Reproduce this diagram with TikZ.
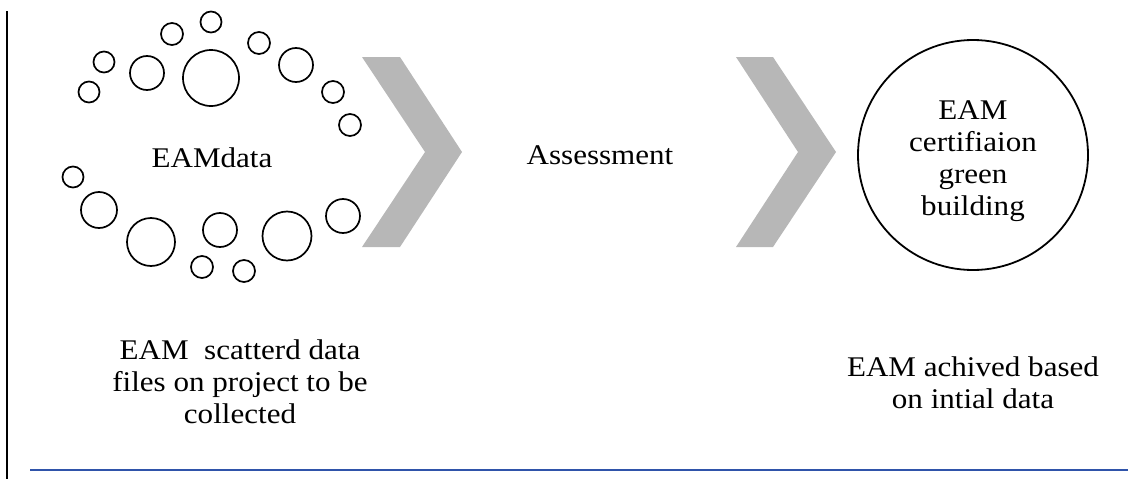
\documentclass[tikz,border=0pt]{standalone}
\usepackage{fontspec}
\setmainfont[FakeStretch=1.09]{Liberation Serif}
\definecolor{chevgray}{RGB}{183,183,183}
\definecolor{rulblue}{RGB}{47,84,170}
\begin{document}
\begin{tikzpicture}[x=1pt,y=-1pt,
  bub/.style={draw=black,line width=1.7pt,circle,inner sep=0pt},
  txt/.style={font=\fontsize{28.5}{32}\selectfont,align=center,inner sep=0pt},
  chev/.style={fill=chevgray,draw=none}]
\useasboundingbox (0,0) rectangle (1130,479);
% left rule and bottom rule
\coordinate (vt) at (6.5,11);
\coordinate (vb) at (6.5,479);
\draw[line width=2pt] (vt) -- (vb);
\coordinate (hl) at (30,470);
\coordinate (hr) at (1128,470);
\draw[rulblue,line width=1.3pt] (hl) -- (hr);
% scattered data bubbles
\node[bub,minimum size=21pt] (c1) at (211,22) {};
\node[bub,minimum size=22pt] (c2) at (172,34) {};
\node[bub,minimum size=21pt] (c3) at (104,62) {};
\node[bub,minimum size=21pt] (c4) at (89,92) {};
\node[bub,minimum size=34pt] (c5) at (147,73) {};
\node[bub,minimum size=56pt] (c6) at (211,78) {};
\node[bub,minimum size=22pt] (c7) at (259,43) {};
\node[bub,minimum size=34pt] (c8) at (296,65) {};
\node[bub,minimum size=22pt] (c9) at (333,92) {};
\node[bub,minimum size=22pt] (c10) at (350,125) {};
\node[bub,minimum size=21pt] (c11) at (73,177) {};
\node[bub,minimum size=36pt] (c12) at (99,210) {};
\node[bub,minimum size=48pt] (c13) at (151,242) {};
\node[bub,minimum size=34pt] (c14) at (220,230) {};
\node[bub,minimum size=22pt] (c15) at (202,267) {};
\node[bub,minimum size=22pt] (c16) at (244,271) {};
\node[bub,minimum size=49pt] (c17) at (287,236) {};
\node[bub,minimum size=34pt] (c18) at (343,216) {};
\node[txt] (data) at (212,157.5) {EAMdata};
% chevrons
\fill[chev] (362,57) -- (400,57) -- (462,152) -- (400,247) -- (362,247) -- (425,152) -- cycle;
\fill[chev] (736,57) -- (773,57) -- (836,152) -- (773,247) -- (736,247) -- (798,152) -- cycle;
\node[txt] (assess) at (600,155) {Assessment};
% certification circle
\node[draw=black,line width=1.8pt,circle,minimum size=230pt,inner sep=0pt] (goal) at (973,155) {};
\node[txt] (goaltxt) at (973,161.5) {EAM\\certifiaion\\green\\building};
% captions
\node[txt] (capl) at (240,382) {EAM~~scatterd data\\files on project to be\\collected};
\node[txt] (capr) at (973,383) {EAM achived based\\on intial data};
\end{tikzpicture}
\end{document}
